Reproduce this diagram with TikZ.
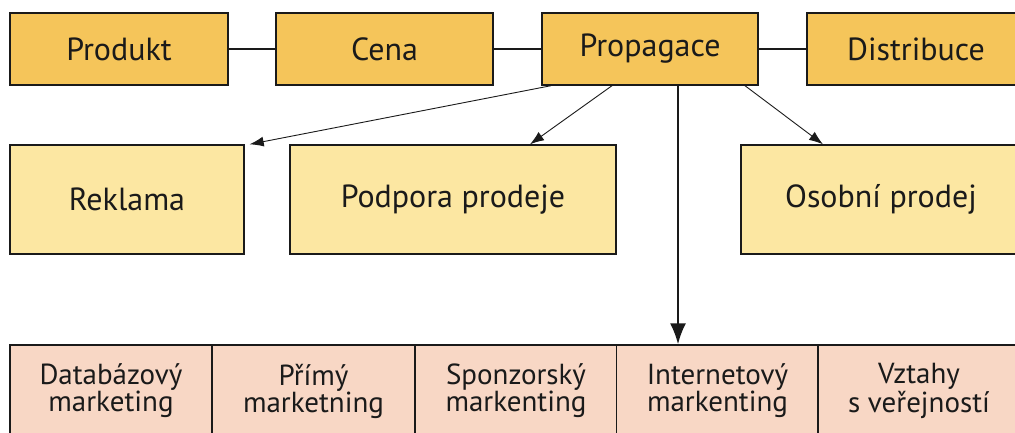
\documentclass[tikz,border=0pt]{standalone}
\usepackage{fontspec}
\setmainfont{PT Sans}
\usetikzlibrary{arrows.meta}
\definecolor{mixfill}{HTML}{F5C55A}
\definecolor{toolfill}{HTML}{FCE7A2}
\definecolor{channelfill}{HTML}{F8D7C5}
\definecolor{ink}{HTML}{1A1A1A}
\tikzset{box/.style={
    draw=ink, line width=1.4pt, inner sep=0pt, text=ink,
    minimum width=#1, align=center
  },
  mix/.style={box=#1, fill=mixfill, minimum height=72pt,
    font=\fontsize{32}{36}\selectfont},
  tool/.style={box=#1, fill=toolfill, minimum height=109pt,
    font=\fontsize{32}{36}\selectfont},
  channel/.style={box=#1, fill=channelfill, minimum height=92pt,
    font=\fontsize{29}{27}\selectfont},
  joint/.style={draw=ink, line width=1.4pt},
  link/.style={draw=ink, line width=0.9pt, -{Latex[length=14pt,width=10pt]}},
  main link/.style={draw=ink, line width=2pt, -{Latex[length=21pt,width=16pt]}}
}
\begin{document}
\begin{tikzpicture}[x=1pt,y=-1pt]
    \clip (0,0) rectangle (1015,432);
    \fill[white] (0,0) rectangle (1015,432);
    \node[mix=218pt] (produkt) at (119,49) {Produkt};
    \node[mix=217pt] (cena) at (384.5,49) {Cena};
    \node[mix=216pt] (propagace) at (650,49) {Propagace};
    \node[mix=218pt] (distribuce) at (916,49) {Distribuce};
    \node[tool=234pt] (reklama) at (127,199.5) {Reklama};
    \node[tool=326pt] (podpora) at (453,199.5) {Podpora prodeje};
    \node[tool=280pt] (osobni) at (881,199.5) {Osobní prodej};
    \foreach \x/\name/\label in {111/databaze/{Databázový\\marketing},
      313.5/primy/{Přímý\\marketning}, 516/sponzor/{Sponzorský\\markenting},
      717.5/internet/{Internetový\\markenting}, 919/vztahy/{Vztahy\\s veřejností}}
      \node[channel=202pt] (\name) at (\x,391) {\label};
    \draw[joint] (produkt) -- (cena);
    \draw[joint] (cena) -- (propagace);
    \draw[joint] (propagace) -- (distribuce);
    \draw[link] ([xshift=-99pt]propagace.south) -- ([xshift=5pt]reklama.north east);
    \draw[link] ([xshift=-38pt]propagace.south) -- ([xshift=77pt]podpora.north);
    \draw[link] ([xshift=95pt]propagace.south) -- ([xshift=-58pt]osobni.north);
    \draw[main link] ([xshift=28pt]propagace.south) -- ([xshift=-39.5pt]internet.north);
\end{tikzpicture}
\end{document}
